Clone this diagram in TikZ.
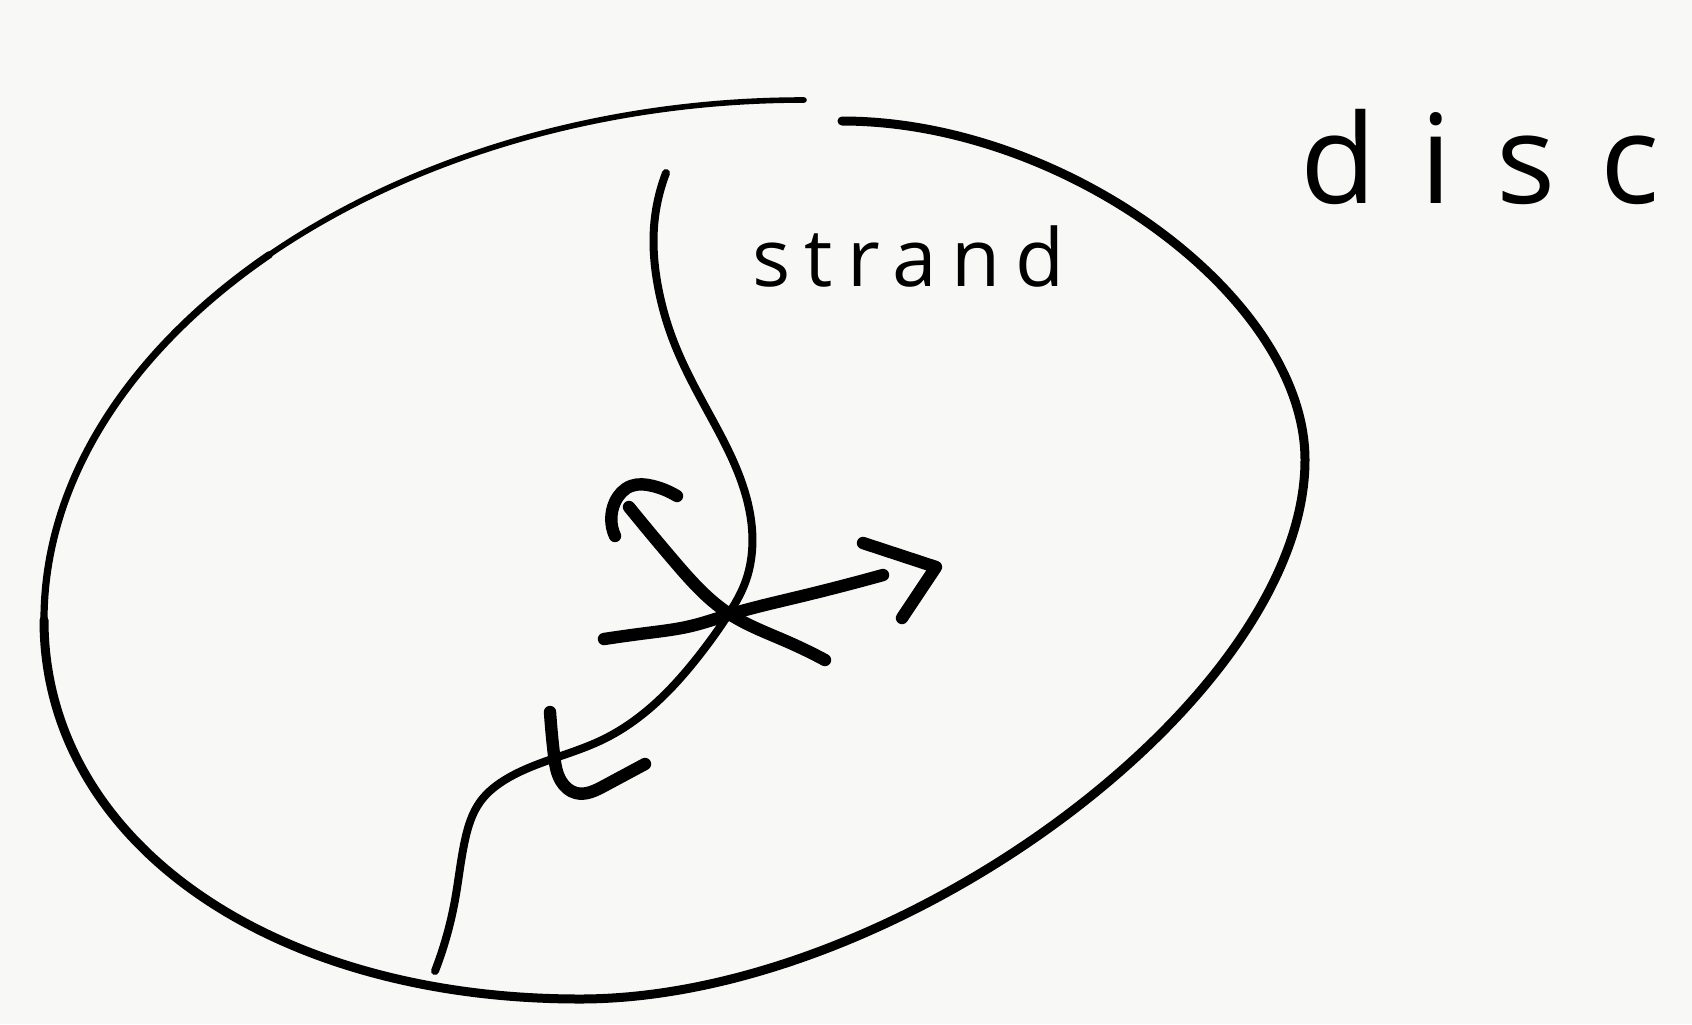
\documentclass[tikz,border=0pt]{standalone}
\usepackage{fontspec}
\setmainfont{Open Sans}
\usetikzlibrary{hobby}
\definecolor{paper}{RGB}{248,248,246}
\begin{document}
\begin{tikzpicture}[x=0.5pt,y=-0.5pt,
  pen/.style={line cap=round,line join=round,black},
  thinpen/.style={pen,line width=2.8pt},
  halfpen/.style={pen,line width=3.6pt},
  rimpen/.style={pen,line width=4.5pt},
  midpen/.style={pen,line width=4pt,use Hobby shortcut},
  boldpen/.style={pen,line width=6.2pt,use Hobby shortcut},
  hand/.style={inner sep=0pt,font=\fontsize{40}{40}\selectfont}]
\fill[paper] (0,0) rectangle (1692,1024);
\useasboundingbox (0,0) rectangle (1692,1024);
% key points of the disc outline
\coordinate (T) at (804,100);
\coordinate (M) at (269.5,254.6);
\coordinate (L) at (44,620);
\coordinate (B) at (580,999);
\coordinate (R) at (1305,460);
\coordinate (E) at (842,121);
% disc outline: the stroke thickens from the top gap round to the left
\draw[thinpen] (T) .. controls (598,100) and (408,159.75) .. (M);
\draw[halfpen] (M) .. controls (131,349.5) and (44,479.5) .. (L);
\draw[rimpen] (L) .. controls (44,840) and (269,999) .. (B)
  .. controls (899,999) and (1305,697) .. (R)
  .. controls (1305,297) and (1064,121) .. (E);
% strand
\draw[midpen] (666,173) .. (654,227) .. (657,281) .. (675,345) .. (707,410)
  .. (739,475) .. (752,529) .. (745,583) .. (728,615) .. (701,653)
  .. (658,701) .. (604,739) .. (555,758) .. (508,778) .. (480,802)
  .. (465,840) .. (455,900) .. (435,971);
% rotation arrow
\draw[boldpen] (825,660) .. (788,642) .. (728,613) .. (674,561) .. (629,507);
\draw[boldpen] (615,536) .. (615,502) .. (631,486) .. (653,486) .. (677,496);
% straight arrow
\draw[boldpen] (604,639) .. (647,633) .. (691,626) .. (728,615) .. (798,597)
  .. (883,575);
\draw[pen,line width=6.2pt] (863,543) -- (936,567) -- (902,618);
% twist mark on strand
\draw[boldpen] (550,712) .. (554,755) .. (561,781) .. (576,793) .. (604,786)
  .. (645,764);
% labels
\node[hand,anchor=base west] (strandlabel) at (752,286)
  {\addfontfeature{LetterSpace=18}strand};
\node[hand,anchor=base west,font=\fontsize{62}{62}\selectfont] (disclabel) at (1300,203)
  {\addfontfeature{LetterSpace=36}disc};
\end{tikzpicture}
\end{document}
